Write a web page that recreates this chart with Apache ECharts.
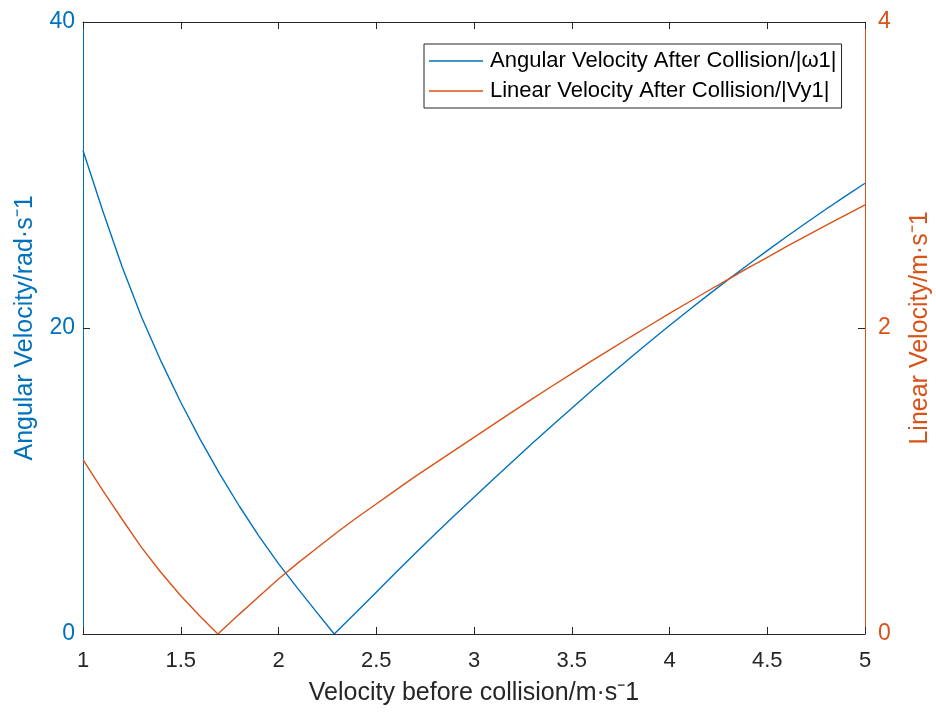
<!DOCTYPE html>
<html>
<head>
<meta charset="utf-8">
<script src="https://cdn.jsdelivr.net/npm/echarts@6/dist/echarts.min.js"></script>
<style>html,body{margin:0;padding:0;background:#fff}#c{width:936px;height:717px}</style>
</head>
<body>
<div id="c"></div>
<script>
// Angular velocity |ω1| (rad·s^-1), left axis
var angX = [1.0,1.1,1.2,1.3,1.4,1.5,1.6,1.7,1.8,1.9,2.0,2.1,2.2,2.285,2.4,2.5,2.6,2.7,2.8,2.9,3.0,3.1,3.2,3.3,3.4,3.5,3.6,3.7,3.8,3.9,4.0,4.1,4.2,4.3,4.4,4.5,4.6,4.7,4.8,4.9,5.0];
var angY = [31.6,27.7,24.0,20.7,17.8,15.15,12.7,10.45,8.35,6.4,4.6,2.95,1.35,0,1.45,2.73,4.02,5.28,6.52,7.74,8.94,10.13,11.31,12.48,13.63,14.76,15.88,16.98,18.06,19.12,20.16,21.18,22.18,23.16,24.12,25.06,25.98,26.88,27.76,28.62,29.46];
// Linear velocity |Vy1| (m·s^-1), right axis
var linX = [1.0,1.1,1.2,1.3,1.4,1.5,1.6,1.69,1.8,1.9,2.0,2.1,2.2,2.3,2.4,2.5,2.6,2.7,2.8,2.9,3.0,3.1,3.2,3.3,3.4,3.5,3.6,3.7,3.8,3.9,4.0,4.1,4.2,4.3,4.4,4.5,4.6,4.7,4.8,4.9,5.0];
var linY = [1.14,0.94,0.75,0.565,0.40,0.25,0.115,0,0.13,0.245,0.36,0.465,0.565,0.665,0.76,0.85,0.94,1.03,1.115,1.20,1.285,1.37,1.455,1.538,1.621,1.702,1.783,1.862,1.941,2.018,2.095,2.17,2.245,2.318,2.391,2.462,2.533,2.602,2.671,2.738,2.805];
var seriesNames = ['Angular Velocity After Collision/|\u03c91|','Linear Velocity After Collision/|Vy1|'];
var xTitle = 'Velocity before collision/m\u00b7s\u207b1';
var yLeftTitle = 'Angular Velocity/rad\u00b7s\u207b1';
var yRightTitle = 'Linear Velocity/m\u00b7s\u207b1';

var BLUE = '#0072BD', ORANGE = '#D95319', DARK = '#262626';
var FONT = 'Liberation Sans, Arial, sans-serif';
function pairs(xs, ys){ return xs.map(function(x,i){ return [x, ys[i]]; }); }

var chart = echarts.init(document.getElementById('c'), null, {renderer:'canvas'});
chart.setOption({
  animation:false,
  backgroundColor:'#fff',
  textStyle:{fontFamily:FONT},
  grid:{left:83, right:71, top:22, bottom:83, containLabel:false, outerBoundsMode:'none'},
  legend:{
    orient:'vertical', left:424, top:44,
    data:seriesNames.map(function(n,i){ return {name:n, icon:'rect', itemStyle:{color:i===0?BLUE:ORANGE}}; }),
    backgroundColor:'#fff', borderColor:DARK, borderWidth:1, borderRadius:0,
    padding:[6,5,6,5], itemGap:8, itemWidth:54, itemHeight:1.5,
    textStyle:{fontSize:22, color:'#000', fontFamily:FONT, padding:[0,0,0,2]}
  },
  xAxis:[{
    type:'value', min:1, max:5, interval:0.5, position:'bottom',
    name:xTitle, nameLocation:'middle', nameGap:47,
    nameTextStyle:{fontSize:25, color:DARK, fontFamily:FONT},
    axisLine:{show:true, onZero:false, lineStyle:{color:DARK, width:1}},
    axisTick:{show:true, inside:true, length:7, lineStyle:{color:DARK}},
    axisLabel:{fontSize:22, color:DARK, margin:16, fontFamily:FONT},
    splitLine:{show:false}
  },{
    type:'value', min:1, max:5, interval:0.5, position:'top',
    axisLine:{show:true, onZero:false, lineStyle:{color:DARK, width:1}},
    axisTick:{show:true, inside:true, length:7, lineStyle:{color:DARK}},
    axisLabel:{show:false}, splitLine:{show:false}
  }],
  yAxis:[{
    type:'value', min:0, max:40, interval:20, position:'left',
    name:yLeftTitle, nameLocation:'middle', nameGap:45, nameRotate:90,
    nameTextStyle:{fontSize:25, color:BLUE, fontFamily:FONT},
    axisLine:{show:true, onZero:false, lineStyle:{color:BLUE, width:1}},
    axisTick:{show:true, inside:true, length:7, lineStyle:{color:DARK}},
    axisLabel:{fontSize:23, color:BLUE, margin:8, fontFamily:FONT},
    splitLine:{show:false}
  },{
    type:'value', min:0, max:4, interval:2, position:'right',
    name:yRightTitle, nameLocation:'middle', nameGap:43, nameRotate:90,
    nameTextStyle:{fontSize:25, color:ORANGE, fontFamily:FONT},
    axisLine:{show:true, onZero:false, lineStyle:{color:ORANGE, width:1}},
    axisTick:{show:true, inside:true, length:7, lineStyle:{color:DARK}},
    axisLabel:{fontSize:23, color:ORANGE, margin:13, fontFamily:FONT},
    splitLine:{show:false}
  }],
  series:[{
    name:seriesNames[0], type:'line', xAxisIndex:0, yAxisIndex:0,
    data:pairs(angX, angY), symbol:'none', smooth:false,
    lineStyle:{color:BLUE, width:1.4}, itemStyle:{color:BLUE}
  },{
    name:seriesNames[1], type:'line', xAxisIndex:0, yAxisIndex:1,
    data:pairs(linX, linY), symbol:'none', smooth:false,
    lineStyle:{color:ORANGE, width:1.4}, itemStyle:{color:ORANGE}
  }]
});
</script>
</body>
</html>
